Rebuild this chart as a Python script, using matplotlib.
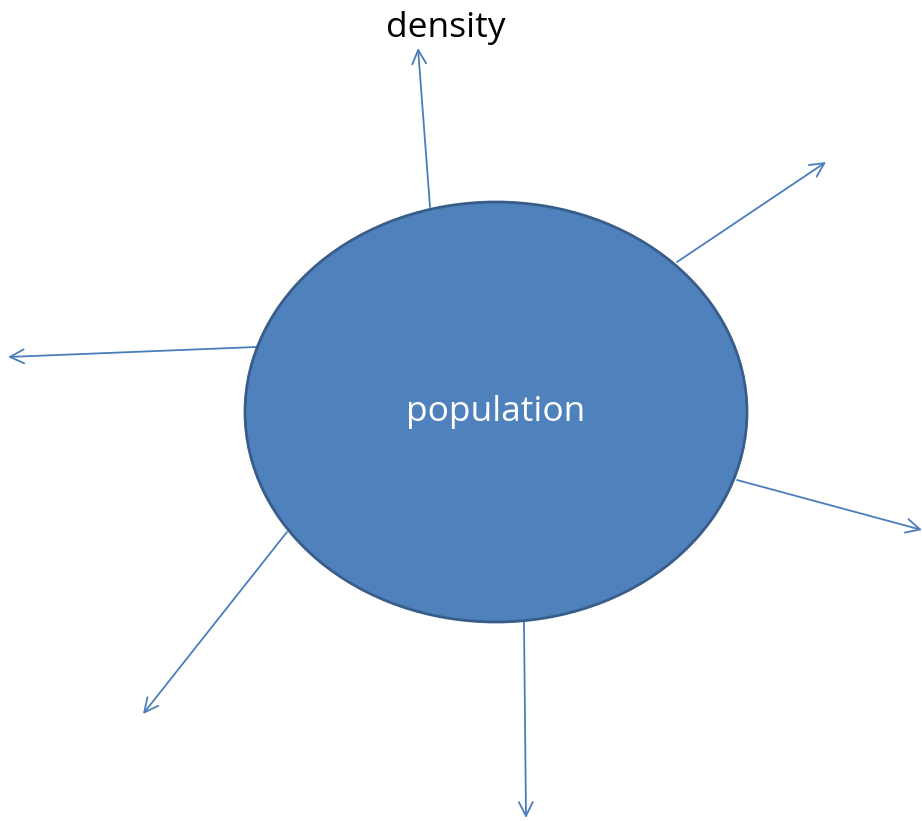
import matplotlib
matplotlib.use("Agg")
import matplotlib.pyplot as plt
from matplotlib.patches import Ellipse

# Diagram data (pixel coordinates, y downward)
center_label = "population"
top_label = "density"
ellipse_center = (496, 412)
ellipse_size = (502, 420)
arrow_starts = [(430, 207), (677, 262), (256, 347), (737, 480), (287, 532), (524, 622)]
arrow_ends = [(418, 48), (826, 162), (8, 357), (922, 530), (143, 714), (526, 818)]
label_pos = (446, 28)

fig = plt.figure(figsize=(9.22, 8.21), dpi=100)
ax = fig.add_axes([0, 0, 1, 1])
ax.set_xlim(0, 922)
ax.set_ylim(821, 0)
ax.axis("off")

arrow_color = "#4A7EBB"
for (x0, y0), (x1, y1) in zip(arrow_starts, arrow_ends):
    ax.annotate("", xy=(x1, y1), xytext=(x0, y0),
                arrowprops=dict(arrowstyle="->,head_length=1.0,head_width=0.5",
                                color=arrow_color, lw=1.3,
                                shrinkA=0, shrinkB=0), zorder=1)

ell = Ellipse(ellipse_center, ellipse_size[0], ellipse_size[1],
              facecolor="#4F81BD", edgecolor="#385D8A", lw=2.0, zorder=2)
ax.add_patch(ell)

ax.text(ellipse_center[0], ellipse_center[1], center_label, color="white",
        fontsize=25.5, family="Open Sans", ha="center", va="center", zorder=3)
ax.text(label_pos[0], label_pos[1], top_label, color="black",
        fontsize=25.5, family="Open Sans", ha="center", va="center", zorder=3)

fig.savefig("out.png", dpi=100)
